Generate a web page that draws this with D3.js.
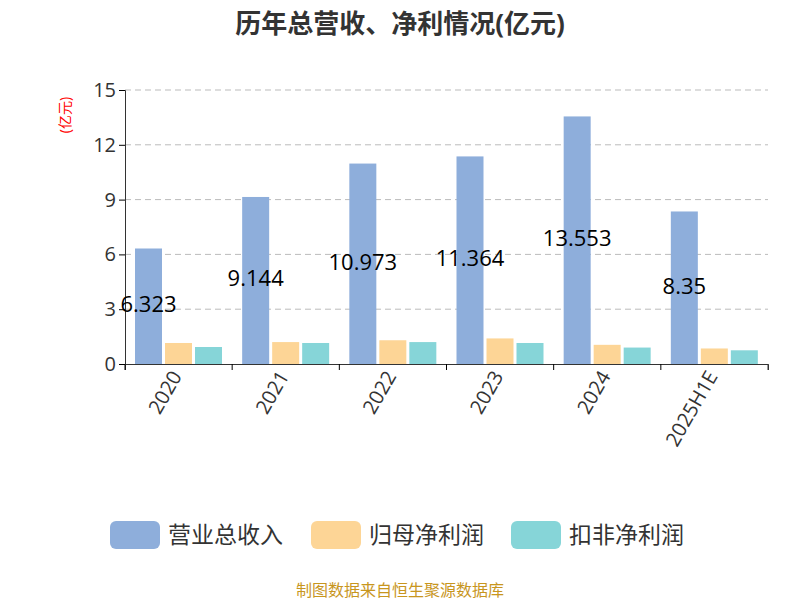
<!DOCTYPE html><html><head><meta charset="utf-8"><script src="https://cdn.jsdelivr.net/npm/d3@7"></script>
<style>body{margin:0;background:#fff}text{font-family:"Open Sans","Noto Sans CJK SC",sans-serif}</style></head><body><svg width="800" height="600"></svg><script>
const categories=["2020","2021","2022","2023","2024","2025H1E"];
const revenue=[6.323,9.144,10.973,11.364,13.553,8.35];
const netProfit=[1.15,1.2,1.3,1.4,1.05,0.85];
const deductedProfit=[0.93,1.15,1.2,1.15,0.9,0.75];
const seriesNames=["营业总收入","归母净利润","扣非净利润"];
const colors=["#8eaedb","#fdd596","#86d5d8"];
const yTicks=[0,3,6,9,12,15];
const svg=d3.select("svg");
const m={l:125,r:768,t:90,b:364};
const x=d3.scaleBand().domain(categories).range([m.l,m.r]);
const y=d3.scaleLinear().domain([0,15]).range([m.b,m.t]);
svg.append("text").attr("x",400).attr("y",33).attr("text-anchor","middle").attr("font-size",26).attr("font-weight","bold").attr("fill","#333").text("历年总营收、净利情况(亿元)");
svg.append("text").attr("transform","translate(70,115) rotate(-90)").attr("text-anchor","middle").attr("font-size",14).attr("fill","red").text("(亿元)");
yTicks.forEach(t=>{if(t>0)svg.append("line").attr("x1",m.l).attr("x2",m.r).attr("y1",y(t)).attr("y2",y(t)).attr("stroke","#bbb").attr("stroke-dasharray","6,4");});
const ya=svg.append("g").attr("transform",`translate(${m.l},0)`).call(d3.axisLeft(y).tickValues(yTicks).tickSize(6));
ya.selectAll("text").attr("font-size",20).attr("fill","#333");ya.select(".domain").attr("stroke","#333");
const data=[revenue,netProfit,deductedProfit];
const bw=27,gap=3;
categories.forEach((c,i)=>{
  const x0=x(c)+10;
  data.forEach((s,j)=>{
    svg.append("rect").attr("x",x0+j*(bw+gap)).attr("width",bw).attr("y",y(s[i])).attr("height",y(0)-y(s[i])).attr("fill",colors[j]);
  });
  svg.append("text").attr("x",x0+bw/2).attr("y",y(revenue[i]/2)+6).attr("text-anchor","middle").attr("font-size",22).attr("fill","#000").text(revenue[i]);
});
const xa=svg.append("g").attr("transform",`translate(0,${m.b})`).call(d3.axisBottom(x).tickSize(6).tickFormat(""));
xa.select(".domain").attr("stroke","#333");
xa.selectAll(".tick line").attr("transform",`translate(${-x.bandwidth()/2},0)`);
xa.append("line").attr("x1",m.r).attr("x2",m.r).attr("y1",0).attr("y2",6).attr("stroke","#333");
categories.forEach(c=>{
  svg.append("text").attr("transform",`translate(${x(c)+x.bandwidth()/2+4},${m.b+12}) rotate(-60)`).attr("text-anchor","end").attr("font-size",20).attr("fill","#333").text(c);
});
const lx=[110,311,511];
seriesNames.forEach((n,j)=>{
  svg.append("rect").attr("x",lx[j]).attr("y",521).attr("width",50).attr("height",28).attr("rx",6).attr("fill",colors[j]);
  svg.append("text").attr("x",lx[j]+58).attr("y",543).attr("font-size",23).attr("fill","#333").text(n);
});
svg.append("text").attr("x",400).attr("y",596).attr("text-anchor","middle").attr("font-size",16).attr("fill","#c8961e").text("制图数据来自恒生聚源数据库");
</script></body></html>
